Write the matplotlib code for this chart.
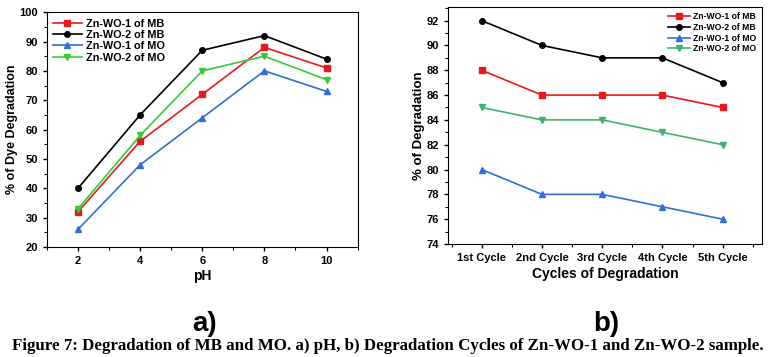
import numpy as np
import matplotlib
matplotlib.use("Agg")
import matplotlib.pyplot as plt
from matplotlib.ticker import MultipleLocator

plt.rcParams['font.family'] = ['Liberation Sans', 'DejaVu Sans']
plt.rcParams['font.weight'] = 'bold'

# a) pH data
ph = [2, 4, 6, 8, 10]
wo1_mb_ph = [32, 56, 72, 88, 81]
wo2_mb_ph = [40, 65, 87, 92, 84]
wo1_mo_ph = [26, 48, 64, 80, 73]
wo2_mo_ph = [33, 58, 80, 85, 77]

# b) cycles data
cycles = ['1st Cycle', '2nd Cycle', '3rd Cycle', '4th Cycle', '5th Cycle']
wo1_mb_cyc = [88, 86, 86, 86, 85]
wo2_mb_cyc = [92, 90, 89, 89, 87]
wo1_mo_cyc = [80, 78, 78, 77, 76]
wo2_mo_cyc = [85, 84, 84, 83, 82]

labels = ['Zn-WO-1 of MB', 'Zn-WO-2 of MB', 'Zn-WO-1 of MO', 'Zn-WO-2 of MO']
red = '#e8191c'
blue = '#2f6fd6'

fig = plt.figure(figsize=(7.69, 3.57), dpi=100)

# panel a
ax1 = fig.add_axes([0.061, 0.308, 0.404, 0.658])
ax1.plot(ph, wo1_mb_ph, color=red, marker='s', ms=4, lw=1.2, label=labels[0])
ax1.plot(ph, wo2_mb_ph, color='black', marker='o', ms=4, lw=1.2, label=labels[1])
ax1.plot(ph, wo1_mo_ph, color=blue, marker='^', ms=4, lw=1.2, label=labels[2])
ax1.plot(ph, wo2_mo_ph, color='#33cc33', marker='v', ms=4, lw=1.2, label=labels[3])
ax1.set_xlim(1, 11)
ax1.set_ylim(20, 100)
ax1.set_xticks(ph)
ax1.xaxis.set_minor_locator(MultipleLocator(1))
ax1.yaxis.set_major_locator(MultipleLocator(10))
ax1.yaxis.set_minor_locator(MultipleLocator(5))
ax1.set_xlabel('pH', fontsize=10, fontweight='bold', labelpad=2)
ax1.set_ylabel('% of Dye Degradation', fontsize=9, fontweight='bold', labelpad=1)
ax1.tick_params(labelsize=8, length=3, width=1)
ax1.tick_params(which='minor', length=2, width=0.8)
for t in ax1.get_xticklabels() + ax1.get_yticklabels():
    t.set_fontweight('bold')
leg1 = ax1.legend(loc='upper left', frameon=False, fontsize=7.8, handlelength=2.6,
                  borderaxespad=0.2, labelspacing=0.12, handletextpad=0.4)
for t in leg1.get_texts():
    t.set_fontweight('bold')

# panel b
x = np.arange(len(cycles))
ax2 = fig.add_axes([0.5826, 0.3165, 0.408, 0.664])
ax2.plot(x, wo1_mb_cyc, color=red, marker='s', ms=4, lw=1.2, label=labels[0])
ax2.plot(x, wo2_mb_cyc, color='black', marker='o', ms=4, lw=1.2, label=labels[1])
ax2.plot(x, wo1_mo_cyc, color=blue, marker='^', ms=4, lw=1.2, label=labels[2])
ax2.plot(x, wo2_mo_cyc, color='#3cb371', marker='v', ms=4, lw=1.2, label=labels[3])
ax2.set_xlim(-0.56, 4.65)
ax2.set_ylim(74, 93.1)
ax2.set_xticks(x)
ax2.set_xticklabels(cycles)
ax2.xaxis.set_minor_locator(MultipleLocator(0.5))
ax2.yaxis.set_major_locator(MultipleLocator(2))
ax2.yaxis.set_minor_locator(MultipleLocator(1))
ax2.set_xlabel('Cycles of Degradation', fontsize=10, fontweight='bold', labelpad=3)
ax2.set_ylabel('% of Degradation', fontsize=9.5, fontweight='bold', labelpad=1)
ax2.tick_params(labelsize=8, length=3, width=1)
ax2.tick_params(which='minor', length=2, width=0.8)
for t in ax2.get_xticklabels() + ax2.get_yticklabels():
    t.set_fontweight('bold')
leg2 = ax2.legend(loc='upper right', frameon=False, fontsize=6.2, handlelength=2.6,
                  borderaxespad=0.2, labelspacing=0.2, handletextpad=0.4)
for t in leg2.get_texts():
    t.set_fontweight('bold')

fig.text(205 / 769, 1 - 324 / 357, 'a)', fontsize=20, fontweight='bold', ha='center', va='center')
fig.text(606 / 769, 1 - 324 / 357, 'b)', fontsize=20, fontweight='bold', ha='center', va='center')
fig.text(388 / 769, 1 - 346 / 357,
         'Figure 7: Degradation of MB and MO. a) pH, b) Degradation Cycles of Zn-WO-1 and Zn-WO-2 sample.',
         family=['Liberation Serif', 'DejaVu Serif'], fontsize=12.2, fontweight='bold',
         ha='center', va='center')

fig.savefig('out.png', dpi=100)
